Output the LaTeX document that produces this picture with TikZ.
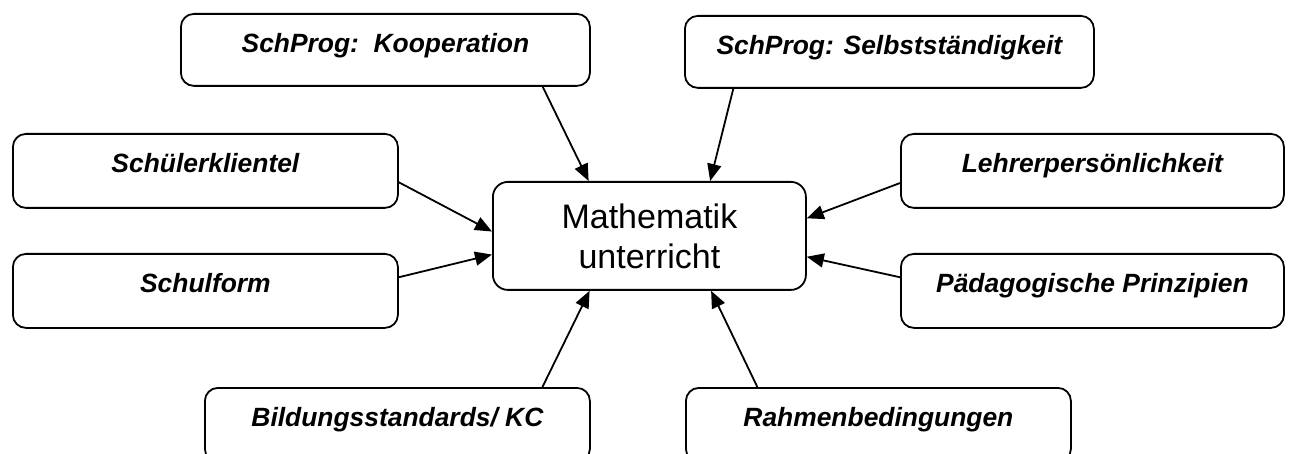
\documentclass[tikz,border=0pt]{standalone}
\usepackage{fontspec}
\setmainfont{Liberation Sans}
\usepackage{tikz}
\usetikzlibrary{arrows.meta}
\usetikzlibrary{calc}
\tikzstyle{fb}=[rectangle,draw,line width=1.8pt,rounded corners=13pt,anchor=north west,inner xsep=0pt,inner ysep=0pt,text height=39pt,text depth=35pt,font=\fontsize{26.4}{30}\selectfont\bfseries\itshape]
\tikzstyle{mb}=[rectangle,draw,line width=1.8pt,rounded corners=15pt,anchor=north west,minimum width=313pt,minimum height=108pt,align=center,font=\fontsize{34}{40}\selectfont]
\tikzstyle{arr}=[line width=1.8pt,-{Triangle[length=17pt,width=14pt]}]

\begin{document}
\begin{tikzpicture}[x=1pt,y=-1pt]
\useasboundingbox (0,0) rectangle (1290,454);

%center
\node[mb] (mu) at (492,181) {Mathematik\\unterricht};

%top row
\node[fb,minimum width=409pt,text depth=33pt] (koop) at (180,13) {SchProg:\ \ Kooperation};
\node[fb,minimum width=409pt,text depth=33pt] (selb) at (684,15) {SchProg: Selbstständigkeit};

%left
\node[fb,minimum width=385pt] (schue) at (12,133) {Schülerklientel};
\node[fb,minimum width=385pt] (schul) at (12,253) {Schulform};

%right
\node[fb,minimum width=383pt] (lehr) at (900,133) {Lehrerpersönlichkeit};
\node[fb,minimum width=383pt] (paed) at (900,253) {Pädagogische Prinzipien};

%bottom row (cut off at the bottom)
\node[fb,minimum width=385pt] (bild) at (204,387) {Bildungsstandards/ KC};
\node[fb,minimum width=385pt] (rahm) at (685,387) {Rahmenbedingungen};

%arrows into the center
\draw[arr] ($(koop.south west)!.883!(koop.south east)$) -- ($(mu.north west)!.307!(mu.north east)$);
\draw[arr] ($(selb.south west)!.12!(selb.south east)$) -- ($(mu.north west)!.693!(mu.north east)$);
\draw[arr] ($(schue.north east)!.65!(schue.south east)$) -- ($(mu.north west)!.46!(mu.south west)$);
\draw[arr] ($(schul.north east)!.32!(schul.south east)$) -- ($(mu.north west)!.67!(mu.south west)$);
\draw[arr] ($(lehr.north west)!.66!(lehr.south west)$) -- ($(mu.north east)!.34!(mu.south east)$);
\draw[arr] ($(paed.north west)!.32!(paed.south west)$) -- ($(mu.north east)!.69!(mu.south east)$);
\draw[arr] ($(bild.north west)!.875!(bild.north east)$) -- ($(mu.south west)!.31!(mu.south east)$);
\draw[arr] ($(rahm.north west)!.187!(rahm.north east)$) -- ($(mu.south west)!.696!(mu.south east)$);

\end{tikzpicture}
\end{document}
